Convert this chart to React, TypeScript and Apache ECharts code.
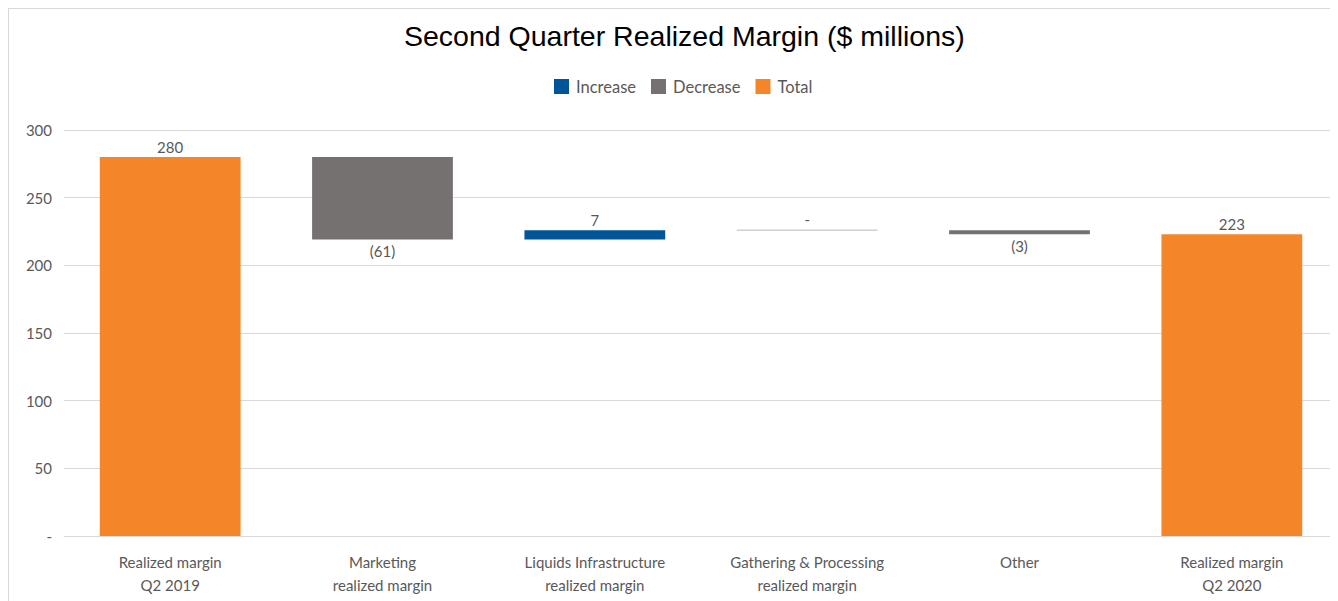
import React, { useEffect, useRef } from "react";
import * as echarts from "echarts";

const categories = [
  "Realized margin\nQ2 2019",
  "Marketing\nrealized margin",
  "Liquids Infrastructure\nrealized margin",
  "Gathering & Processing\nrealized margin",
  "Other",
  "Realized margin\nQ2 2020",
];
const steps = [280, -61, 7, 0, -3, 223];
const kinds = ["total", "decrease", "increase", "zero", "decrease", "total"];
const yTicks = { min: 0, max: 300, interval: 50 };

const COLORS: Record<string, string> = {
  increase: "#005598",
  decrease: "#757170",
  total: "#F48629",
  zero: "#D0D0D0",
};
const FONT = "Lato, 'Open Sans', sans-serif";
const TEXT = "#595959";

function buildRows() {
  const rows: { i: number; start: number; end: number; kind: string; v: number }[] = [];
  let running = 0;
  steps.forEach((v, i) => {
    const kind = kinds[i];
    if (kind === "total") {
      rows.push({ i, start: 0, end: v, kind, v });
      running = v;
    } else {
      rows.push({ i, start: running, end: running + v, kind, v });
      running += v;
    }
  });
  return rows;
}

function labelOf(kind: string, v: number) {
  if (kind === "zero") return "-";
  if (v < 0) return `(${-v})`;
  return String(v);
}

export default function App() {
  const ref = useRef<HTMLDivElement>(null);
  useEffect(() => {
    if (!ref.current) return;
    const chart = echarts.init(ref.current, undefined, { renderer: "svg" });
    const rows = buildRows();
    const renderItem = (params: any, api: any) => {
      const i = api.value(0);
      const start = api.value(1);
      const end = api.value(2);
      const row = rows[i];
      const x = api.coord([i, 0])[0];
      const y1 = api.coord([i, start])[1];
      const y2 = api.coord([i, end])[1];
      const w = api.size([1, 0])[0] * 0.663;
      let top = Math.min(y1, y2);
      let h = Math.abs(y1 - y2);
      const zero = row.kind === "zero";
      if (zero) {
        h = 1.5;
        top = y1 - 0.75;
      }
      const below = row.v < 0;
      return {
        type: "group",
        children: [
          {
            type: "rect",
            shape: { x: x - w / 2, y: top, width: w, height: h },
            style: { fill: COLORS[row.kind] },
          },
          {
            type: "text",
            x,
            y: below ? top + h + 4 : top - 3,
            style: {
              text: labelOf(row.kind, row.v),
              fill: TEXT,
              fontSize: 15,
              fontFamily: FONT,
              align: "center",
              verticalAlign: below ? "top" : "bottom",
            },
          },
        ],
      };
    };
    const mk = (name: string, kind: string) => ({
      name,
      type: "custom",
      renderItem,
      itemStyle: { color: COLORS[kind] },
      encode: { x: 0, y: [1, 2] },
      data: rows.filter((r) => r.kind === kind).map((r) => [r.i, r.start, r.end]),
    });
    chart.setOption({
      animation: false,
      title: {
        text: "Second Quarter Realized Margin ($ millions)",
        left: 390,
        top: 7,
        textStyle: {
          fontFamily: "'Liberation Sans', Arial, sans-serif",
          fontSize: 28.5,
          fontWeight: "normal",
          color: "#000000",
        },
      },
      legend: {
        top: 64,
        left: 540,
        data: ["Increase", "Decrease", "Total"],
        icon: "rect",
        itemWidth: 15,
        itemHeight: 15,
        itemGap: 15,
        textStyle: { fontFamily: FONT, fontSize: 16.5, color: TEXT, padding: [0, 0, 0, 2] },
      },
      grid: { left: 55, top: 121, width: 1276, height: 406 },
      xAxis: {
        type: "category",
        data: categories,
        axisLine: { lineStyle: { color: "#D9D9D9" } },
        axisTick: { show: false },
        axisLabel: {
          fontFamily: FONT,
          fontSize: 15,
          color: TEXT,
          lineHeight: 23,
          margin: 14,
          interval: 0,
        },
      },
      yAxis: {
        type: "value",
        min: yTicks.min,
        max: yTicks.max,
        interval: yTicks.interval,
        axisLine: { show: false },
        axisTick: { show: false },
        splitLine: { lineStyle: { color: "#D9D9D9" } },
        axisLabel: {
          fontFamily: FONT,
          fontSize: 15,
          color: TEXT,
          margin: 12,
          formatter: (v: number) => (v === 0 ? "-" : String(v)),
        },
      },
      series: [
        mk("Increase", "increase"),
        mk("Decrease", "decrease"),
        mk("Total", "total"),
        mk("Zero", "zero"),
      ],
    });
    return () => chart.dispose();
  }, []);
  return (
    <div
      style={{
        width: 1330,
        height: 593,
        borderTop: "1px solid #D9D9D9",
        borderLeft: "1px solid #D9D9D9",
        boxSizing: "border-box",
        overflow: "hidden",
      }}
    >
      <div ref={ref} style={{ width: 1329, height: 592 }} />
    </div>
  );
}
